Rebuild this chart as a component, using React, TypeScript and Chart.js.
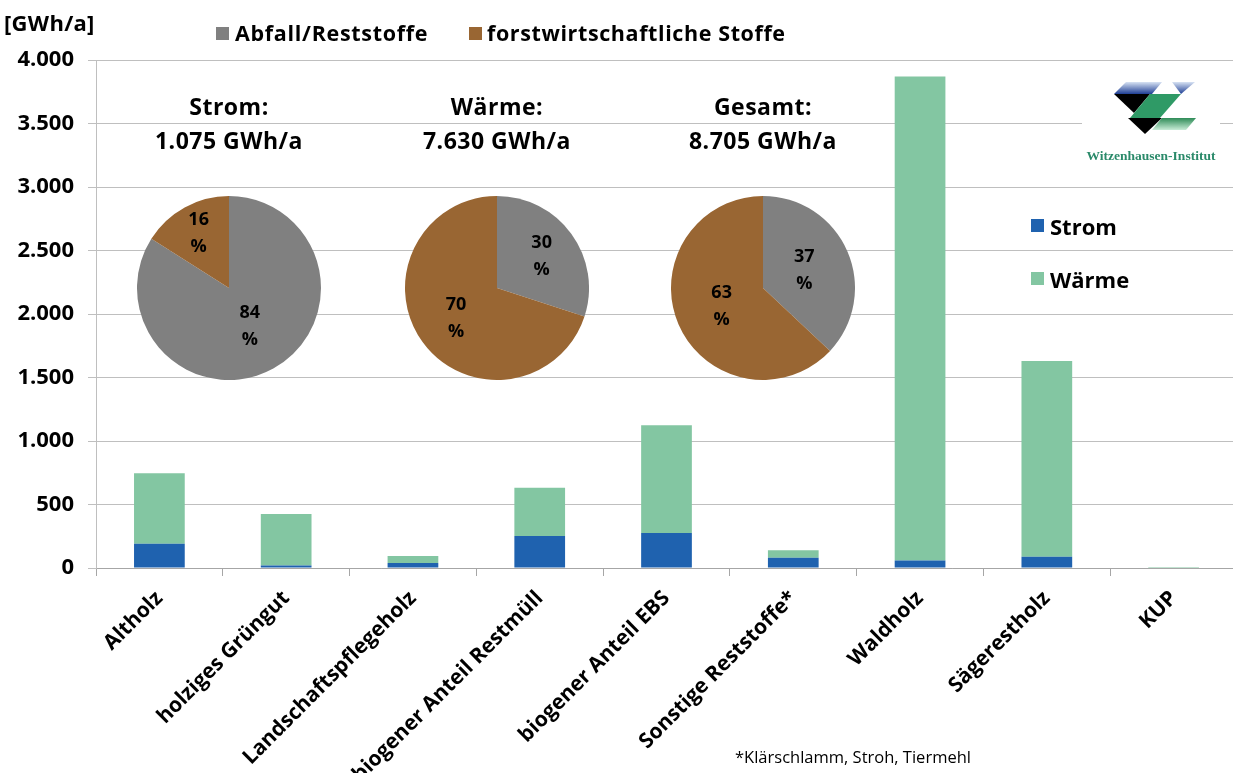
import React, { useEffect, useRef } from "react";
import { Chart, registerables } from "chart.js";

Chart.register(...registerables);

// ---------- data ----------
const categories = [
  "Altholz",
  "holziges Grüngut",
  "Landschaftspflegeholz",
  "biogener Anteil Restmüll",
  "biogener Anteil EBS",
  "Sonstige Reststoffe*",
  "Waldholz",
  "Sägerestholz",
  "KUP",
];
const stromValues = [190, 20, 40, 252, 276, 81, 60, 89, 0];
const waermeValues = [556, 405, 55, 380, 848, 58, 3810, 1540, 8];
const yMin = 0;
const yMax = 4000;
const yStep = 500;

const pieCategories = ["Abfall/Reststoffe", "forstwirtschaftliche Stoffe"];
const pieStrom = [84, 16];
const pieWaerme = [30, 70];
const pieGesamt = [37, 63];
const pieTitles = ["Strom:", "Wärme:", "Gesamt:"];
const pieTotals = ["1.075 GWh/a", "7.630 GWh/a", "8.705 GWh/a"];
const barSeries = ["Strom", "Wärme"];
const unitLabel = "[GWh/a]";
const footnote = "*Klärschlamm, Stroh, Tiermehl";
const logoText = "Witzenhausen-Institut";

// ---------- styles ----------
const FONT = "'Open Sans', Lato, sans-serif";
const C_STROM = "#1F62AF";
const C_WAERME = "#83C6A2";
const C_GRAY = "#808080";
const C_BROWN = "#996633";

const fmt = (v: number) =>
  String(v).replace(/\B(?=(\d{3})+(?!\d))/g, ".");

const pieLabelPlugin = {
  id: "pieLabels",
  afterDatasetsDraw(chart: any, _args: any, opts: any) {
    const meta = chart.getDatasetMeta(0);
    const ds = chart.data.datasets[0].data as number[];
    const ctx = chart.ctx;
    ctx.save();
    ctx.fillStyle = "#000";
    ctx.font = `bold 18px ${FONT}`;
    ctx.textAlign = "center";
    ctx.textBaseline = "middle";
    meta.data.forEach((arc: any, i: number) => {
      const p = arc.getProps(["x", "y", "startAngle", "endAngle", "outerRadius"]);
      const mid = (p.startAngle + p.endAngle) / 2;
      const r = p.outerRadius * (opts.radii?.[i] ?? 0.5);
      const px = p.x + Math.cos(mid) * r;
      const py = p.y + Math.sin(mid) * r;
      ctx.fillText(String(ds[i]), px, py - 13);
      ctx.fillText("%", px, py + 14);
    });
    ctx.restore();
  },
};

function Pie({ values, radii, cx, cy, r }: { values: number[]; radii: number[]; cx: number; cy: number; r: number }) {
  const ref = useRef<HTMLCanvasElement>(null);
  useEffect(() => {
    if (!ref.current) return;
    const ch = new Chart(ref.current, {
      type: "pie",
      data: {
        labels: pieCategories,
        datasets: [
          {
            data: values,
            backgroundColor: [C_GRAY, C_BROWN],
            borderWidth: 0,
          },
        ],
      },
      options: {
        responsive: false,
        animation: false,
        events: [],
        layout: { padding: 0 },
        plugins: {
          legend: { display: false },
          tooltip: { enabled: false },
          pieLabels: { radii },
        } as any,
      },
      plugins: [pieLabelPlugin],
    });
    return () => ch.destroy();
  }, []);
  return (
    <canvas
      ref={ref}
      width={2 * r}
      height={2 * r}
      style={{ position: "absolute", left: cx - r, top: cy - r, width: 2 * r, height: 2 * r }}
    />
  );
}

export default function App() {
  const ref = useRef<HTMLCanvasElement>(null);
  useEffect(() => {
    if (!ref.current) return;
    const chart = new Chart(ref.current, {
      type: "bar",
      data: {
        labels: categories,
        datasets: [
          {
            label: barSeries[0],
            data: stromValues,
            backgroundColor: C_STROM,
            categoryPercentage: 1,
            barPercentage: 0.4,
          },
          {
            label: barSeries[1],
            data: waermeValues,
            backgroundColor: C_WAERME,
            categoryPercentage: 1,
            barPercentage: 0.4,
          },
        ],
      },
      options: {
        responsive: false,
        animation: false,
        events: [],
        layout: { padding: { top: 60, left: 0, right: 3, bottom: 0 } },
        plugins: { legend: { display: false }, tooltip: { enabled: false } },
        scales: {
          x: {
            stacked: true,
            grid: {
              display: true,
              drawOnChartArea: false,
              drawTicks: true,
              tickLength: 8,
              color: "#A6A6A6",
              offset: true,
            },
            border: { display: true, color: "#A6A6A6", width: 1 },
            ticks: {
              autoSkip: false,
              maxRotation: 45,
              minRotation: 45,
              padding: 10,
              color: "#000",
              font: { family: FONT, weight: "bold", size: 21 },
            },
            afterFit: (s: any) => {
              s.height = 205;
            },
          },
          y: {
            stacked: true,
            min: yMin,
            max: yMax,
            ticks: {
              stepSize: yStep,
              padding: 14,
              color: "#000",
              font: { family: FONT, weight: "bold", size: 22 },
              callback: (v: any) => fmt(Number(v)),
            },
            grid: { color: "#BFBFBF", drawTicks: true, tickLength: 8 },
            border: { display: true, color: "#BFBFBF" },
            afterFit: (s: any) => {
              s.width = 96;
            },
          },
        },
      } as any,
    });
    return () => chart.destroy();
  }, []);

  const bold = { fontFamily: FONT, fontWeight: 700, color: "#000", position: "absolute" as const, whiteSpace: "nowrap" as const };
  const pieCenters = [229, 497, 763];

  return (
    <div
      style={{
        position: "fixed",
        left: 0,
        top: 0,
        width: 1233,
        height: 773,
        overflow: "hidden",
        background: "#fff",
      }}
    >
      <canvas ref={ref} width={1240} height={773} style={{ position: "absolute", left: 0, top: 0, width: 1240, height: 773 }} />

      {/* unit */}
      <div style={{ ...bold, left: 4, top: 8, fontSize: 22, lineHeight: "28px", letterSpacing: 0.3 }}>{unitLabel}</div>

      {/* top legend */}
      <div style={{ position: "absolute", left: 216, top: 27, width: 13, height: 13, background: C_GRAY }} />
      <div style={{ ...bold, left: 235, top: 19, fontSize: 21.5, lineHeight: "28px", letterSpacing: 0.7 }}>{pieCategories[0]}</div>
      <div style={{ position: "absolute", left: 469, top: 27, width: 13, height: 13, background: C_BROWN }} />
      <div style={{ ...bold, left: 487, top: 19, fontSize: 21.5, lineHeight: "28px", letterSpacing: 0.6 }}>{pieCategories[1]}</div>

      {/* right legend */}
      <div style={{ position: "absolute", left: 1031, top: 219, width: 13, height: 13, background: C_STROM }} />
      <div style={{ ...bold, left: 1050, top: 212, fontSize: 22, lineHeight: "28px" }}>{barSeries[0]}</div>
      <div style={{ position: "absolute", left: 1031, top: 272, width: 13, height: 13, background: C_WAERME }} />
      <div style={{ ...bold, left: 1050, top: 265, fontSize: 22, lineHeight: "28px" }}>{barSeries[1]}</div>

      {/* pie titles */}
      {pieTitles.map((t, i) => (
        <div
          key={t}
          style={{
            ...bold,
            left: pieCenters[i] - 120,
            width: 240,
            top: 89,
            textAlign: "center",
            fontSize: 23,
            lineHeight: "34px",
            letterSpacing: 0.5,
            whiteSpace: "pre",
          }}
        >
          {t + "\n" + pieTotals[i]}
        </div>
      ))}

      <Pie values={pieStrom} radii={[0.47, 0.685]} cx={229} cy={288} r={92} />
      <Pie values={pieWaerme} radii={[0.6, 0.55]} cx={497} cy={288} r={92} />
      <Pie values={pieGesamt} radii={[0.49, 0.49]} cx={763} cy={288} r={92} />

      {/* logo */}
      <div style={{ position: "absolute", left: 1082, top: 66, width: 138, height: 112, background: "#fff" }}>
        <svg width={138} height={112} viewBox="1082 66 138 112" style={{ position: "absolute", left: 0, top: 0 }}>
          <defs>
            <linearGradient id="gb" x1="0" y1="0" x2="0" y2="1">
              <stop offset="0" stopColor="#d7e2f3" />
              <stop offset="1" stopColor="#1f3f95" />
            </linearGradient>
            <linearGradient id="gg" x1="0" y1="0" x2="0" y2="1">
              <stop offset="0" stopColor="#2e8b57" />
              <stop offset="1" stopColor="#c9ecd7" />
            </linearGradient>
          </defs>
          <polygon points="1126,82 1162,82 1152,94 1114,94" fill="url(#gb)" />
          <polygon points="1172,82 1195,82 1181,94" fill="url(#gb)" />
          <polygon points="1114,94 1150,94 1134,113" fill="#000" />
          <polygon points="1150,94 1181,94 1160,118 1130,118" fill="#2f9a66" />
          <polygon points="1128,118 1162,118 1145,134" fill="#000" />
          <polygon points="1162,118 1196,118 1186,130 1152,130" fill="url(#gg)" />
        </svg>
        <div
          style={{
            position: "absolute",
            left: -5,
            width: 148,
            top: 82,
            textAlign: "center",
            fontFamily: "'Liberation Serif', 'DejaVu Serif', serif",
            fontWeight: 700,
            fontSize: 13.5,
            color: "#2b8a6a",
            whiteSpace: "nowrap",
          }}
        >
          {logoText}
        </div>
      </div>

      {/* footnote */}
      <div style={{ position: "absolute", left: 735, top: 745, fontFamily: FONT, fontSize: 16.5, lineHeight: "24px", color: "#000", whiteSpace: "nowrap" }}>
        {footnote}
      </div>
    </div>
  );
}
